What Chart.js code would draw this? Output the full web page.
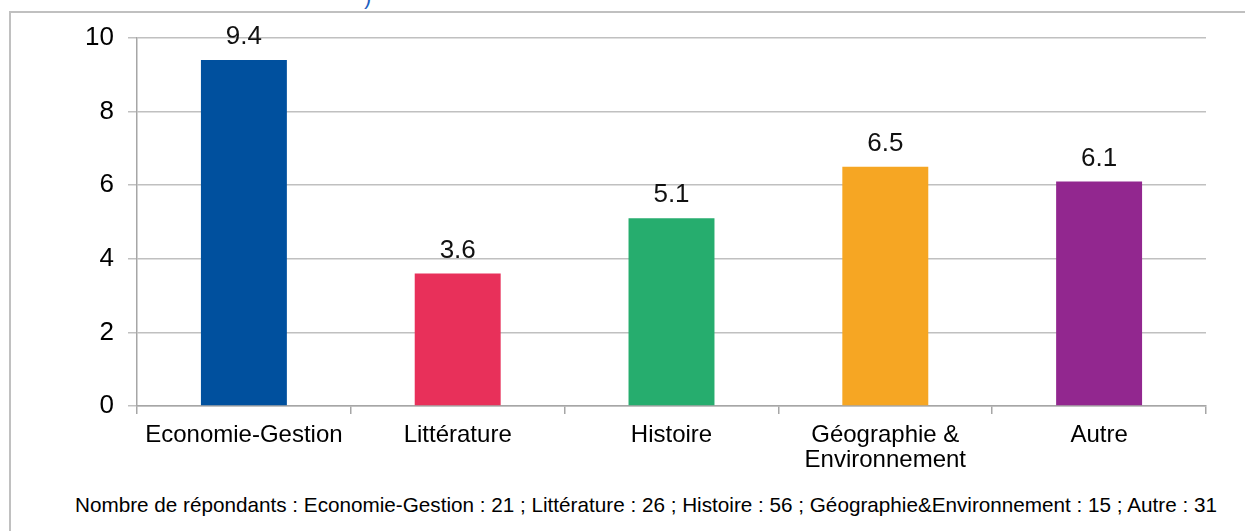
<!DOCTYPE html>
<html>
<head>
<meta charset="utf-8">
<script src="https://cdn.jsdelivr.net/npm/chart.js@4/dist/chart.umd.min.js"></script>
<style>
  body{margin:0;background:#fff;font-family:"Liberation Sans",Arial,sans-serif;}
  #wrap{position:relative;width:1245px;height:531px;overflow:hidden;}
  #frame{position:absolute;left:9px;top:11px;width:1300px;height:600px;border:2px solid #c0c0c0;}
  #cv{position:absolute;left:0;top:0;}
  #note{position:absolute;left:75px;top:493px;white-space:nowrap;font-size:20.7px;color:#000;}
  #ttl{position:absolute;left:364px;top:-16px;font-size:22px;color:#1f5fbf;}
</style>
</head>
<body>
<div id="wrap">
  <div id="frame"></div>
  <div id="ttl">)</div>
  <canvas id="cv" width="1245" height="480"></canvas>
  <div id="note">Nombre de répondants : Economie-Gestion : 21 ; Littérature : 26 ; Histoire : 56 ; Géographie&amp;Environnement : 15 ; Autre : 31</div>
</div>
<script>
const categories = ['Economie-Gestion','Littérature','Histoire',['Géographie &','Environnement'],'Autre'];
const values = [9.4, 3.6, 5.1, 6.5, 6.1];
const barColors = ['#00509e','#e8305a','#26ad6e','#f6a623','#92278f'];
const yTicks = [0,2,4,6,8,10];

const FONT = '"Liberation Sans", Arial, sans-serif';

const valueLabels = {
  id:'valueLabels',
  afterDatasetsDraw(chart){
    const ctx = chart.ctx;
    const meta = chart.getDatasetMeta(0);
    ctx.save();
    ctx.font = '26px ' + FONT;
    ctx.fillStyle = '#111';
    ctx.textAlign = 'center';
    ctx.textBaseline = 'alphabetic';
    meta.data.forEach((bar,i)=>{
      ctx.fillText(values[i].toFixed(1), bar.x, bar.y - 16);
    });
    ctx.restore();
  }
};

new Chart(document.getElementById('cv'), {
  type:'bar',
  data:{ labels:categories, datasets:[{ data:values, backgroundColor:barColors, barPercentage:0.5, categoryPercentage:0.804 }]},
  options:{
    responsive:false, animation:false,
    layout:{ padding:{ left:0, right:39, top:38, bottom:0 } },
    plugins:{ legend:{display:false}, tooltip:{enabled:false} },
    scales:{
      x:{
        afterFit(ax){ ax.height = 74; },
        grid:{ offset:true, drawOnChartArea:false, color:'#a6a6a6', tickLength:8, lineWidth:1.5 },
        border:{ color:'#a6a6a6', width:1.5 },
        ticks:{ color:'#000', font:{ size:24, family:FONT, lineHeight:1.05 }, padding:9, maxRotation:0, autoSkip:false }
      },
      y:{
        min:0, max:10,
        afterFit(ax){ ax.width = 137; },
        afterBuildTicks(ax){ ax.ticks = yTicks.map(v=>({value:v})); },
        grid:{ color:'#c0c0c0', lineWidth:1.5, tickLength:9 },
        border:{ color:'#a6a6a6', width:1.5 },
        ticks:{ color:'#000', font:{ size:26, family:FONT }, padding:14 }
      }
    }
  },
  plugins:[valueLabels]
});
</script>
</body>
</html>
